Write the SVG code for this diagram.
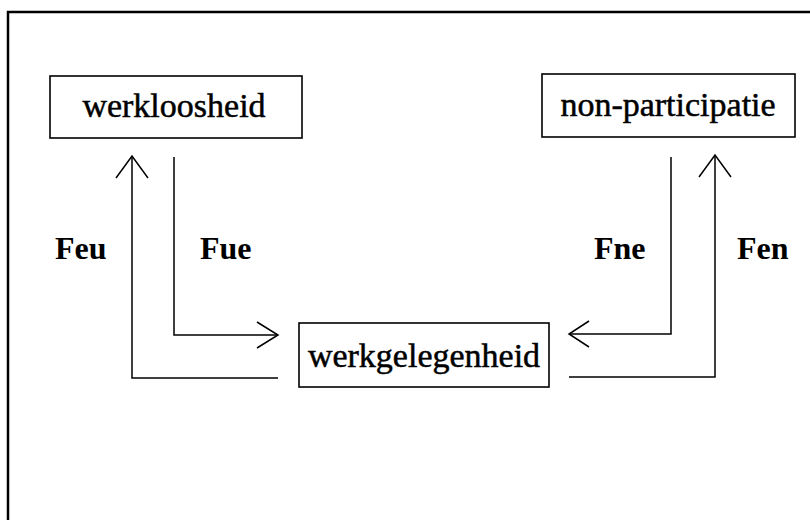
<svg xmlns="http://www.w3.org/2000/svg" width="810" height="520" viewBox="0 0 810 520">
<style>
.box{fill:#fff;stroke:#000;stroke-width:1.6}
.lbl{font-family:"Liberation Serif","Times New Roman",serif;font-size:34px;fill:#000;stroke:#000;stroke-width:0.5;text-anchor:middle}
.flow{font-family:"Liberation Serif","Times New Roman",serif;font-size:32px;font-weight:bold;fill:#000}
.ln{fill:none;stroke:#000;stroke-width:1.5}
</style>
<rect width="810" height="520" fill="#fff"/>
<path d="M8,520 V12 H810" fill="none" stroke="#000" stroke-width="2.5"/>
<g id="werkloosheid">
<rect class="box" x="50" y="76" width="252" height="62"/>
<text class="lbl" x="174" y="117">werkloosheid</text>
</g>
<g id="non-participatie">
<rect class="box" x="542" y="74" width="253" height="63"/>
<text class="lbl" x="668" y="116">non-participatie</text>
</g>
<g id="werkgelegenheid">
<rect class="box" x="299" y="323" width="250" height="64"/>
<text class="lbl" x="424" y="367">werkgelegenheid</text>
</g>
<g id="connectors">
<path class="ln" d="M278,378 H132 V156"/>
<path class="ln" d="M116,178 L132,156 L148,178"/>
<path class="ln" d="M174,157 V335 H278"/>
<path class="ln" d="M257,322 L278,335 L257,348"/>
<path class="ln" d="M671,157 V334 H569"/>
<path class="ln" d="M589,321 L569,334 L589,347"/>
<path class="ln" d="M569,377 H715 V155"/>
<path class="ln" d="M699,177 L715,155 L731,177"/>
</g>
<g id="labels">
<text class="flow" x="55" y="259">Feu</text>
<text class="flow" x="200" y="259">Fue</text>
<text class="flow" x="594" y="259">Fne</text>
<text class="flow" x="737" y="259">Fen</text>
</g>
</svg>
